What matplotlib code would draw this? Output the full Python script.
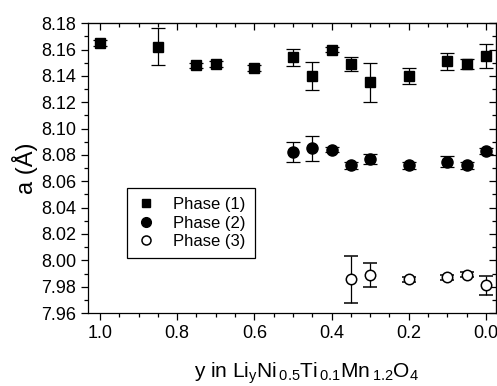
#!/usr/bin/env python
# coding: utf-8

import numpy as np
import matplotlib.pyplot as plt
from matplotlib.lines import Line2D
from matplotlib.ticker import MultipleLocator

plt.rcParams['font.family'] = ['Liberation Sans', 'DejaVu Sans']
plt.rcParams['mathtext.fontset'] = 'custom'
plt.rcParams['mathtext.rm'] = 'Liberation Sans'
plt.rcParams['mathtext.default'] = 'regular'

# lattice parameter a (Angstrom) vs Li content y
y1 = [1.0, 0.85, 0.75, 0.70, 0.60, 0.50, 0.45, 0.40, 0.35, 0.30, 0.20, 0.10, 0.05, 0.0]
a1 = [8.165, 8.162, 8.148, 8.149, 8.146, 8.154, 8.140, 8.160, 8.149, 8.135, 8.140, 8.151, 8.149, 8.155]
e1 = [0.002, 0.014, 0.002, 0.002, 0.002, 0.0066, 0.0105, 0.002, 0.0055, 0.015, 0.006, 0.0063, 0.004, 0.009]

y2 = [0.50, 0.45, 0.40, 0.35, 0.30, 0.20, 0.10, 0.05, 0.0]
a2 = [8.082, 8.085, 8.084, 8.072, 8.077, 8.072, 8.075, 8.072, 8.083]
e2 = [0.0076, 0.0097, 0.002, 0.003, 0.004, 0.003, 0.004, 0.003, 0.002]

y3 = [0.35, 0.30, 0.20, 0.10, 0.05, 0.0]
a3 = [7.9855, 7.989, 7.9855, 7.987, 7.989, 7.981]
e3 = [0.0175, 0.009, 0.002, 0.002, 0.002, 0.0073]

fig = plt.figure(figsize=(4.97, 3.86), dpi=100)
ax = fig.add_axes([0.177, 0.189, 0.821, 0.751])

kw = dict(ls='none', ecolor='black', elinewidth=0.9, capsize=5, capthick=0.9, color='black')
ax.errorbar(y1, a1, yerr=e1, marker='s', ms=7, mfc='black', mec='black', **kw)
ax.errorbar(y2, a2, yerr=e2, marker='o', ms=8, mfc='black', mec='black', **kw)
ax.errorbar(y3, a3, yerr=e3, marker='o', ms=7.5, mfc='white', mec='black', mew=1.1, **kw)

ax.set_xlim(1.031, -0.026)
ax.set_ylim(7.96, 8.18)
ax.set_xticks(np.arange(0, 1.01, 0.2))
ax.set_xticklabels(['0.0', '0.2', '0.4', '0.6', '0.8', '1.0'])
ax.xaxis.set_minor_locator(MultipleLocator(0.05))
ax.yaxis.set_major_locator(MultipleLocator(0.02))
ax.yaxis.set_minor_locator(MultipleLocator(0.01))
ax.yaxis.set_major_formatter(plt.FormatStrFormatter('%.2f'))

ax.tick_params(which='both', direction='out', labelsize=13, width=0.9)
ax.tick_params(which='major', length=5)
ax.tick_params(which='minor', length=3)
# inward ticks on the top and right frame
ax2 = ax.secondary_xaxis('top')
ax2.set_xticks(np.arange(0, 1.01, 0.2))
ax2.xaxis.set_minor_locator(MultipleLocator(0.05))
ax2.tick_params(which='both', direction='in', labeltop=False, width=0.9)
ax2.tick_params(which='major', length=5)
ax2.tick_params(which='minor', length=3)
ax3 = ax.secondary_yaxis('right')
ax3.yaxis.set_major_locator(MultipleLocator(0.02))
ax3.yaxis.set_minor_locator(MultipleLocator(0.01))
ax3.tick_params(which='both', direction='in', labelright=False, width=0.9)
ax3.tick_params(which='major', length=5)
ax3.tick_params(which='minor', length=3)

for s in ax.spines.values():
    s.set_linewidth(0.9)

ax.set_ylabel('a (Å)', fontsize=17, labelpad=2)
ax.set_xlabel('y in Li$_y$Ni$_{\\,0.5}$Ti$_{\\,0.1}$Mn$_{\\,1.2}$O$_4$', fontsize=15)
ax.xaxis.set_label_coords(0.535, -0.165)

handles = [
    Line2D([], [], ls='none', marker='s', ms=6, mfc='black', mec='black'),
    Line2D([], [], ls='none', marker='o', ms=7, mfc='black', mec='black'),
    Line2D([], [], ls='none', marker='o', ms=6.5, mfc='white', mec='black', mew=1.1),
]
leg = ax.legend(handles, ['Phase (1)', 'Phase (2)', 'Phase (3)'],
                loc='upper left', bbox_to_anchor=(0.096, 0.431), borderaxespad=0,
                fontsize=12, fancybox=False, edgecolor='black', framealpha=1,
                handlelength=1.2, handletextpad=1.0, labelspacing=0.2,
                borderpad=0.55)
leg.get_frame().set_linewidth(0.9)

plt.savefig('out.png', dpi=100)
